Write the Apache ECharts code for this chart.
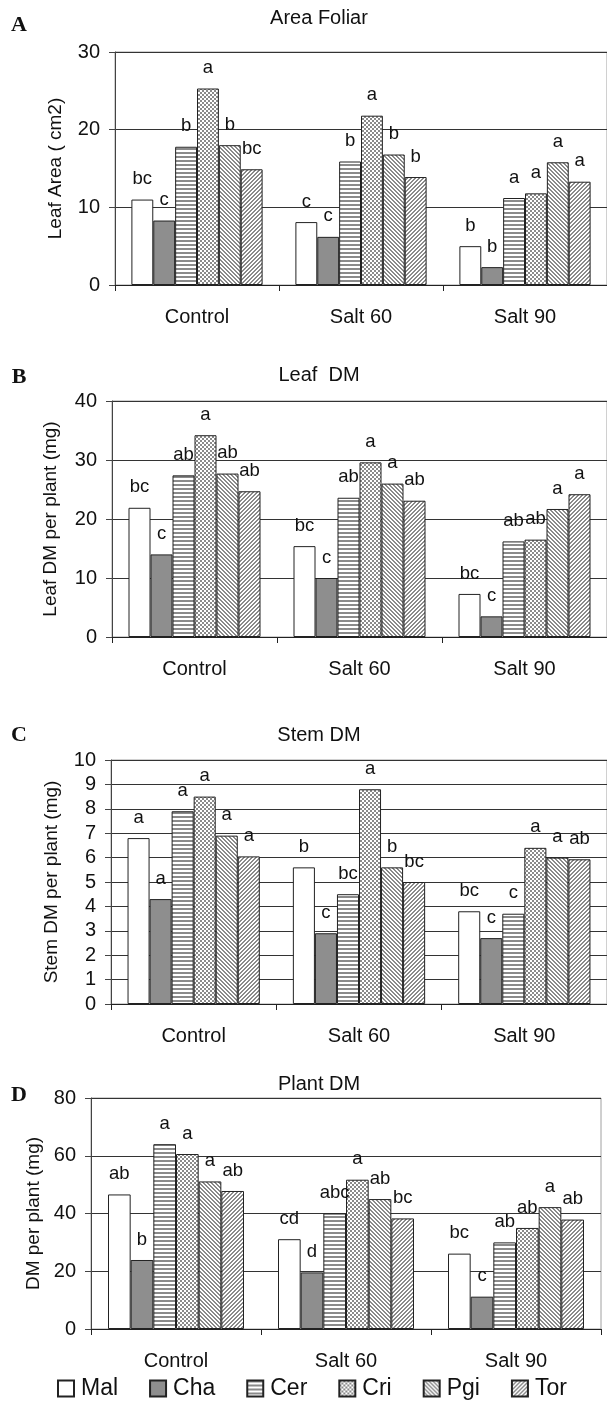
<!DOCTYPE html>
<html>
<head>
<meta charset="utf-8">
<script src="https://cdn.jsdelivr.net/npm/echarts@6/dist/echarts.min.js"></script>
<style>
  html, body { margin: 0; padding: 0; background: #fff; }
  #chart { width: 607px; height: 1401px; }
</style>
</head>
<body>
<div id="chart"></div>
<script>
// categories and varieties
var categories = ['Control', 'Salt 60', 'Salt 90'];
var varieties = ['Mal', 'Cha', 'Cer', 'Cri', 'Pgi', 'Tor'];

// A - leaf area (cm2), one row per variety: Control, Salt 60, Salt 90
var leafArea = [
  [11.0, 8.1, 5.0],
  [8.3, 6.2, 2.3],
  [17.8, 15.9, 11.2],
  [25.3, 21.8, 11.8],
  [18.0, 16.8, 15.8],
  [14.9, 13.9, 13.3]
];
var leafAreaLetters = [
  ['bc', 'c', 'b'],
  ['c', 'c', 'b'],
  ['b', 'b', 'a'],
  ['a', 'a', 'a'],
  ['b', 'b', 'a'],
  ['bc', 'b', 'a']
];

// B - leaf DM per plant (mg)
var leafDM = [
  [21.9, 15.4, 7.3],
  [14.0, 10.0, 3.5],
  [27.4, 23.6, 16.2],
  [34.2, 29.6, 16.5],
  [27.7, 26.0, 21.7],
  [24.7, 23.1, 24.2]
];
var leafDMLetters = [
  ['bc', 'bc', 'bc'],
  ['c', 'c', 'c'],
  ['ab', 'ab', 'ab'],
  ['a', 'a', 'ab'],
  ['ab', 'a', 'a'],
  ['ab', 'ab', 'a']
];

// C - stem DM per plant (mg)
var stemDM = [
  [6.8, 5.6, 3.8],
  [4.3, 2.9, 2.7],
  [7.9, 4.5, 3.7],
  [8.5, 8.8, 6.4],
  [6.9, 5.6, 6.0],
  [6.05, 5.0, 5.93]
];
var stemDMLetters = [
  ['a', 'b', 'bc'],
  ['a', 'c', 'c'],
  ['a', 'bc', 'c'],
  ['a', 'a', 'a'],
  ['a', 'b', 'a'],
  ['a', 'bc', 'ab']
];

// D - plant DM per plant (mg)
var plantDM = [
  [46.6, 31.1, 26.1],
  [23.9, 19.6, 11.2],
  [64.0, 40.0, 30.0],
  [60.6, 51.7, 35.0],
  [51.1, 45.0, 42.2],
  [47.8, 38.3, 37.9]
];
var plantDMLetters = [
  ['ab', 'cd', 'bc'],
  ['b', 'd', 'c'],
  ['a', 'abc', 'ab'],
  ['a', 'a', 'ab'],
  ['a', 'ab', 'a'],
  ['ab', 'bc', 'ab']
];

var panels = [
  { letter: 'A', title: 'Area Foliar', yName: 'Leaf Area ( cm2)', max: 30, step: 10, values: leafArea, letters: leafAreaLetters,
    grid: { left: 115, top: 52, width: 498, height: 233 }, titleY: 18, letterY: 25, nameGap: 50 },
  { letter: 'B', title: 'Leaf  DM', yName: 'Leaf DM per plant (mg)', max: 40, step: 10, values: leafDM, letters: leafDMLetters,
    grid: { left: 112, top: 401, width: 498, height: 236 }, titleY: 375, letterY: 377, nameGap: 52 },
  { letter: 'C', title: 'Stem DM', yName: 'Stem DM per plant (mg)', max: 10, step: 1, values: stemDM, letters: stemDMLetters,
    grid: { left: 111, top: 760, width: 502, height: 244 }, titleY: 735, letterY: 735, nameGap: 50 },
  { letter: 'D', title: 'Plant DM', yName: 'DM per plant (mg)', max: 80, step: 20, values: plantDM, letters: plantDMLetters,
    grid: { left: 91, top: 1098, width: 510, height: 231 }, titleY: 1084, letterY: 1095, nameGap: 40 }
];

var FONT = '"Liberation Sans", Arial, sans-serif';
var GRAY = '#8e8e8e';

// small repeating fills for the hatched bars
function pattern(kind) {
  var c = document.createElement('canvas');
  c.width = 4; c.height = 4;
  var ctx = c.getContext('2d');
  ctx.fillStyle = '#fff';
  ctx.fillRect(0, 0, 4, 4);
  ctx.fillStyle = '#8a8a8a';
  for (var x = 0; x < 4; x++) {
    for (var y = 0; y < 4; y++) {
      var on = false;
      if (kind === 'hstripe') on = y < 2;
      if (kind === 'check') on = ((x >> 1) + (y >> 1)) % 2 === 0;
      if (kind === 'back') on = ((x - y + 8) % 4) < 2;
      if (kind === 'fwd') on = ((x + y) % 4) < 2;
      if (on) ctx.fillRect(x, y, 1, 1);
    }
  }
  return { image: c, repeat: 'repeat' };
}

var fills = ['#ffffff', GRAY, pattern('hstripe'), pattern('check'), pattern('back'), pattern('fwd')];

var grids = [], xAxes = [], yAxes = [], series = [], graphics = [];

panels.forEach(function (p, k) {
  grids.push(Object.assign({ show: true, borderColor: '#a0a0a0', borderWidth: 1 }, p.grid));
  xAxes.push({
    type: 'category', gridIndex: k, data: categories,
    axisLine: { lineStyle: { color: '#222', width: 1 } },
    axisTick: { show: true, length: 6, lineStyle: { color: '#222' } },
    axisLabel: { color: '#111', fontSize: 20, fontFamily: FONT, margin: 22 }
  });
  yAxes.push({
    type: 'value', gridIndex: k, min: 0, max: p.max, interval: p.step,
    name: p.yName, nameLocation: 'middle', nameGap: p.nameGap, nameRotate: 90,
    nameTextStyle: { color: '#111', fontSize: 19, fontFamily: FONT },
    axisLine: { show: true, lineStyle: { color: '#444', width: 1 } },
    axisTick: { show: true, length: 6, lineStyle: { color: '#444' } },
    axisLabel: { color: '#111', fontSize: 20, fontFamily: FONT, margin: 15 },
    splitLine: { show: true, lineStyle: { color: '#333', width: 1 } }
  });
  varieties.forEach(function (v, i) {
    series.push({
      type: 'bar', name: v, xAxisIndex: k, yAxisIndex: k,
      data: p.values[i],
      barGap: '0%', barCategoryGap: '20%',
      itemStyle: { color: fills[i], borderColor: '#222', borderWidth: 1 },
      label: {
        show: true, position: 'top', distance: 11,
        color: '#111', fontSize: 18.5, fontFamily: FONT,
        formatter: function (prm) { return p.letters[i][prm.dataIndex]; }
      },
      emphasis: { disabled: true },
      animation: false
    });
  });
  graphics.push({
    type: 'text', x: 319, y: p.titleY,
    style: { text: p.title, font: '20px ' + FONT, fill: '#111', textAlign: 'center', textVerticalAlign: 'middle' }
  });
  graphics.push({
    type: 'text', x: 19, y: p.letterY,
    style: { text: p.letter, font: 'bold 22px "Liberation Serif", "Times New Roman", serif', fill: '#111', textAlign: 'center', textVerticalAlign: 'middle' }
  });
});

var myChart = echarts.init(document.getElementById('chart'), null, { renderer: 'canvas' });
myChart.setOption({
  backgroundColor: '#fff',
  animation: false,
  grid: grids,
  xAxis: xAxes,
  yAxis: yAxes,
  series: series,
  graphic: graphics,
  legend: {
    data: varieties,
    left: 52, top: 1372,
    itemWidth: 16, itemHeight: 16, itemGap: 31,
    icon: 'rect',
    textStyle: { color: '#111', fontSize: 23, fontFamily: FONT, padding: [0, 0, 0, 2] }
  }
});
</script>
</body>
</html>
